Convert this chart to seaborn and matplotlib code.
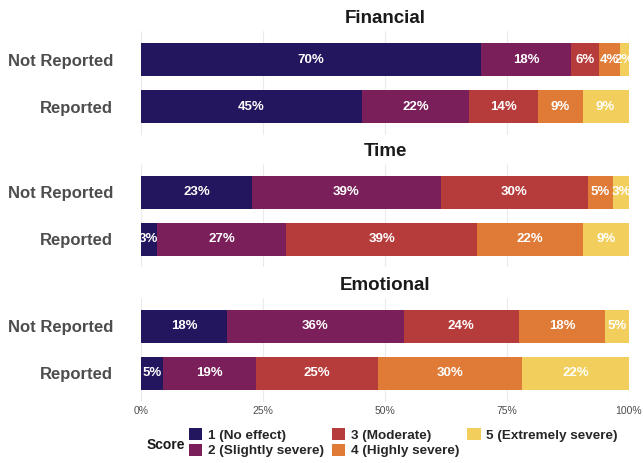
import pandas as pd
import seaborn as sns
import matplotlib.pyplot as plt
from matplotlib.patches import Patch

# データ（図から読み取った割合 %）
facets = ['Financial', 'Time', 'Emotional']
groups = ['Not Reported', 'Reported']
scores = ['1 (No effect)', '2 (Slightly severe)', '3 (Moderate)',
          '4 (Highly severe)', '5 (Extremely severe)']

financial_not = [69.7, 18.4, 5.7, 4.3, 1.9]
financial_rep = [45.3, 21.9, 14.1, 9.2, 9.4]
time_not = [22.7, 38.7, 30.1, 5.2, 3.3]
time_rep = [3.2, 26.6, 39.1, 21.7, 9.4]
emotional_not = [17.6, 36.2, 23.6, 17.7, 4.9]
emotional_rep = [4.6, 18.9, 25.0, 29.6, 21.9]

palette = ['#24165E', '#7A1F5A', '#B63C3B', '#E07B37', '#F2CF5C']

values = {
    'Financial': [financial_not, financial_rep],
    'Time': [time_not, time_rep],
    'Emotional': [emotional_not, emotional_rep],
}

sns.set_theme(style='white')
plt.rcParams['font.family'] = ['Liberation Sans', 'DejaVu Sans']

fig = plt.figure(figsize=(6.43, 4.63), dpi=100)

# パネル位置（ピクセル → 比率）
W, H = 643, 463
left, width = 141 / W, 488 / W
panel_h = 103.4 / H
tops = [31.3, 164.0, 298.2]

for i, facet in enumerate(facets):
    ax = fig.add_axes([left, 1 - (tops[i] + 103.4) / H, width, panel_h])
    rows = []
    for g, vals in zip(groups, values[facet]):
        for s, v in zip(scores, vals):
            rows.append({'group': g, 'score': s, 'value': v})
    df = pd.DataFrame(rows)
    df['cum'] = df.groupby('group')['value'].cumsum()

    # 積み上げ：累積値を大きい順に重ねて描く
    for s, c in reversed(list(zip(scores, palette))):
        sub = df[df['score'] == s]
        sns.barplot(data=sub, x='cum', y='group', order=groups, orient='h',
                    color=c, width=0.7, saturation=1, ax=ax, linewidth=0)

    # ラベル
    for _, r in df.iterrows():
        y = groups.index(r['group'])
        ax.text(r['cum'] - r['value'] / 2, y, f"{round(r['value']):.0f}%",
                ha='center', va='center', color='white', fontsize=9.5,
                fontweight='bold')

    ax.set_xlim(0, 100)
    ax.set_ylim(1.6, -0.6)
    ax.set_xticks([0, 25, 50, 75, 100])
    ax.grid(axis='x', color='#EBEBEB', linewidth=0.8)
    ax.set_axisbelow(True)
    for sp in ax.spines.values():
        sp.set_visible(False)
    ax.set_xlabel('')
    ax.set_ylabel('')
    ax.set_title(facet, fontsize=13.5, fontweight='bold', color='#1A1A1A', pad=6)
    ax.tick_params(axis='y', length=0, pad=20, labelsize=12, labelcolor='#4D4D4D')
    for t in ax.get_yticklabels():
        t.set_fontweight('bold')
    if i < 2:
        ax.tick_params(axis='x', length=0, labelbottom=False)
    else:
        ax.set_xticklabels(['0%', '25%', '50%', '75%', '100%'])
        ax.tick_params(axis='x', length=0, labelsize=7.5, labelcolor='#4D4D4D', pad=3)

# 凡例
handles = [Patch(facecolor=c, edgecolor='none') for c in palette]
fig.legend(handles, scores, ncol=3, loc='upper left',
           bbox_to_anchor=(189 / W, 1 - 428 / H), frameon=False,
           prop={'size': 9.7, 'weight': 'bold'}, handlelength=1.0,
           handleheight=1.0, handletextpad=0.4, columnspacing=0.6,
           labelspacing=0.15, borderpad=0, borderaxespad=0)
fig.text(147 / W, 1 - 445 / H, 'Score', fontsize=10, fontweight='bold',
         color='#1A1A1A', va='center', ha='left')

plt.savefig('out.png', dpi=100)
